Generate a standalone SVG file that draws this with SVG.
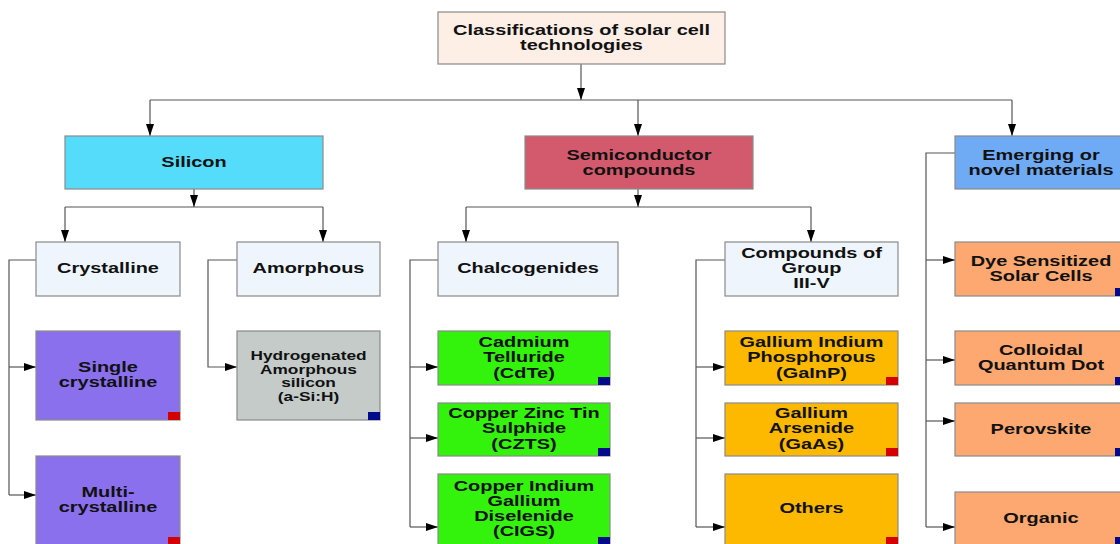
<svg xmlns="http://www.w3.org/2000/svg" width="1120" height="544" viewBox="0 0 1120 544">
<style>
.b{stroke:#8a8a8a;stroke-width:1.2}
.t{font-family:"Liberation Sans",Arial,sans-serif;font-weight:bold;font-size:15px;fill:#111;text-anchor:middle}
.s{font-size:13px}
.c{fill:none;stroke:#555;stroke-width:1.2}
.red{fill:#d40000}
.blue{fill:#000a8a}
</style>
<defs>
<marker id="a" markerUnits="userSpaceOnUse" markerWidth="13" markerHeight="9" refX="12" refY="4" orient="auto"><path d="M0,0 L12,4 L0,8 z" fill="#000"/></marker>
</defs>
<rect width="1120" height="544" fill="#fff"/>
<g id="connectors" class="c">
<path d="M581,64 V100" marker-end="url(#a)"/>
<path d="M150,100 H1012"/>
<path d="M150,100 V136" marker-end="url(#a)"/>
<path d="M638,100 V136" marker-end="url(#a)"/>
<path d="M1012,100 V136" marker-end="url(#a)"/>
<path d="M194,189 V207" marker-end="url(#a)"/>
<path d="M65,207 H323"/>
<path d="M65,207 V242" marker-end="url(#a)"/>
<path d="M323,207 V242" marker-end="url(#a)"/>
<path d="M638,189 V207" marker-end="url(#a)"/>
<path d="M466,207 H811"/>
<path d="M466,207 V242" marker-end="url(#a)"/>
<path d="M811,207 V242" marker-end="url(#a)"/>
<path d="M36,260 H9 V495"/>
<path d="M9,367 H36" marker-end="url(#a)"/>
<path d="M9,495 H36" marker-end="url(#a)"/>
<path d="M237,260 H208 V367 H237" marker-end="url(#a)"/>
<path d="M438,260 H410 V527"/>
<path d="M410,367 H438" marker-end="url(#a)"/>
<path d="M410,438 H438" marker-end="url(#a)"/>
<path d="M410,527 H438" marker-end="url(#a)"/>
<path d="M725,260 H696 V527"/>
<path d="M696,367 H725" marker-end="url(#a)"/>
<path d="M696,438 H725" marker-end="url(#a)"/>
<path d="M696,527 H725" marker-end="url(#a)"/>
<path d="M955,153 H926 V527"/>
<path d="M926,260 H955" marker-end="url(#a)"/>
<path d="M926,360 H955" marker-end="url(#a)"/>
<path d="M926,421 H955" marker-end="url(#a)"/>
<path d="M926,527 H955" marker-end="url(#a)"/>
</g>
<g id="root"><rect class="b" x="438" y="12" width="287" height="52" fill="#fdeee6"/>
<text class="t" transform="translate(581.5 35) scale(1.33 1)">Classifications of solar cell</text>
<text class="t" transform="translate(581.5 50) scale(1.33 1)">technologies</text></g>
<g id="silicon"><rect class="b" x="65" y="136" width="258" height="53" fill="#55dcfa"/>
<text class="t" transform="translate(194 167) scale(1.33 1)">Silicon</text></g>
<g id="semiconductor"><rect class="b" x="525" y="136" width="228" height="53" fill="#d35a6c"/>
<text class="t" transform="translate(639 160) scale(1.33 1)">Semiconductor</text>
<text class="t" transform="translate(639 175) scale(1.33 1)">compounds</text></g>
<g id="emerging"><rect class="b" x="955" y="136" width="172" height="53" fill="#6faaf5"/>
<text class="t" transform="translate(1041 160) scale(1.33 1)">Emerging or</text>
<text class="t" transform="translate(1041 175) scale(1.33 1)">novel materials</text></g>
<g id="crystalline"><rect class="b" x="36" y="242" width="144" height="54" fill="#eef5fd"/>
<text class="t" transform="translate(108 273) scale(1.33 1)">Crystalline</text></g>
<g id="amorphous"><rect class="b" x="237" y="242" width="143" height="54" fill="#eef5fd"/>
<text class="t" transform="translate(308.5 273) scale(1.33 1)">Amorphous</text></g>
<g id="chalcogenides"><rect class="b" x="438" y="242" width="180" height="54" fill="#eef5fd"/>
<text class="t" transform="translate(528 273) scale(1.33 1)">Chalcogenides</text></g>
<g id="group35"><rect class="b" x="725" y="242" width="173" height="54" fill="#eef5fd"/>
<text class="t" transform="translate(811.5 258) scale(1.33 1)">Compounds of</text>
<text class="t" transform="translate(811.5 273) scale(1.33 1)">Group</text>
<text class="t" transform="translate(811.5 288) scale(1.33 1)">III-V</text></g>
<g id="single"><rect class="b" x="36" y="331" width="144" height="89" fill="#8a70ec"/>
<rect class="red" x="168" y="412" width="12" height="8"/>
<text class="t" transform="translate(108 372) scale(1.33 1)">Single</text>
<text class="t" transform="translate(108 387) scale(1.33 1)">crystalline</text></g>
<g id="multi"><rect class="b" x="36" y="456" width="144" height="89" fill="#8a70ec"/>
<rect class="red" x="168" y="537" width="12" height="8"/>
<text class="t" transform="translate(108 497) scale(1.33 1)">Multi-</text>
<text class="t" transform="translate(108 512) scale(1.33 1)">crystalline</text></g>
<g id="asih"><rect class="b" x="237" y="331" width="143" height="89" fill="#c4cbc9"/>
<rect class="blue" x="368" y="412" width="12" height="8"/>
<text class="t s" transform="translate(308.5 360) scale(1.33 1)">Hydrogenated</text>
<text class="t s" transform="translate(308.5 374) scale(1.33 1)">Amorphous</text>
<text class="t s" transform="translate(308.5 387) scale(1.33 1)">silicon</text>
<text class="t s" transform="translate(308.5 401) scale(1.33 1)">(a-Si:H)</text></g>
<g id="cdte"><rect class="b" x="438" y="331" width="172" height="54" fill="#33f20c"/>
<rect class="blue" x="598" y="377" width="12" height="8"/>
<text class="t" transform="translate(524 347) scale(1.33 1)">Cadmium</text>
<text class="t" transform="translate(524 362) scale(1.33 1)">Telluride</text>
<text class="t" transform="translate(524 378) scale(1.33 1)">(CdTe)</text></g>
<g id="czts"><rect class="b" x="438" y="403" width="172" height="53" fill="#33f20c"/>
<rect class="blue" x="598" y="448" width="12" height="8"/>
<text class="t" transform="translate(524 418) scale(1.33 1)">Copper Zinc Tin</text>
<text class="t" transform="translate(524 433) scale(1.33 1)">Sulphide</text>
<text class="t" transform="translate(524 449) scale(1.33 1)">(CZTS)</text></g>
<g id="cigs"><rect class="b" x="438" y="474" width="172" height="71" fill="#33f20c"/>
<rect class="blue" x="598" y="537" width="12" height="8"/>
<text class="t" transform="translate(524 491) scale(1.33 1)">Copper Indium</text>
<text class="t" transform="translate(524 506) scale(1.33 1)">Gallium</text>
<text class="t" transform="translate(524 521) scale(1.33 1)">Diselenide</text>
<text class="t" transform="translate(524 536) scale(1.33 1)">(CIGS)</text></g>
<g id="gainp"><rect class="b" x="725" y="331" width="173" height="54" fill="#fcb900"/>
<rect class="red" x="886" y="377" width="12" height="8"/>
<text class="t" transform="translate(811.5 347) scale(1.33 1)">Gallium Indium</text>
<text class="t" transform="translate(811.5 362) scale(1.33 1)">Phosphorous</text>
<text class="t" transform="translate(811.5 378) scale(1.33 1)">(GaInP)</text></g>
<g id="gaas"><rect class="b" x="725" y="403" width="173" height="53" fill="#fcb900"/>
<rect class="red" x="886" y="448" width="12" height="8"/>
<text class="t" transform="translate(811.5 418) scale(1.33 1)">Gallium</text>
<text class="t" transform="translate(811.5 433) scale(1.33 1)">Arsenide</text>
<text class="t" transform="translate(811.5 449) scale(1.33 1)">(GaAs)</text></g>
<g id="others"><rect class="b" x="725" y="474" width="173" height="71" fill="#fcb900"/>
<rect class="red" x="886" y="537" width="12" height="8"/>
<text class="t" transform="translate(811.5 513) scale(1.33 1)">Others</text></g>
<g id="dye"><rect class="b" x="955" y="242" width="172" height="54" fill="#fca870"/>
<rect class="blue" x="1115" y="288" width="12" height="8"/>
<text class="t" transform="translate(1041 266) scale(1.33 1)">Dye Sensitized</text>
<text class="t" transform="translate(1041 281) scale(1.33 1)">Solar Cells</text></g>
<g id="qd"><rect class="b" x="955" y="331" width="172" height="54" fill="#fca870"/>
<rect class="blue" x="1115" y="377" width="12" height="8"/>
<text class="t" transform="translate(1041 355) scale(1.33 1)">Colloidal</text>
<text class="t" transform="translate(1041 370) scale(1.33 1)">Quantum Dot</text></g>
<g id="perovskite"><rect class="b" x="955" y="403" width="172" height="53" fill="#fca870"/>
<rect class="blue" x="1115" y="448" width="12" height="8"/>
<text class="t" transform="translate(1041 434) scale(1.33 1)">Perovskite</text></g>
<g id="organic"><rect class="b" x="955" y="492" width="172" height="53" fill="#fca870"/>
<rect class="blue" x="1115" y="537" width="12" height="8"/>
<text class="t" transform="translate(1041 523) scale(1.33 1)">Organic</text></g>
</svg>
